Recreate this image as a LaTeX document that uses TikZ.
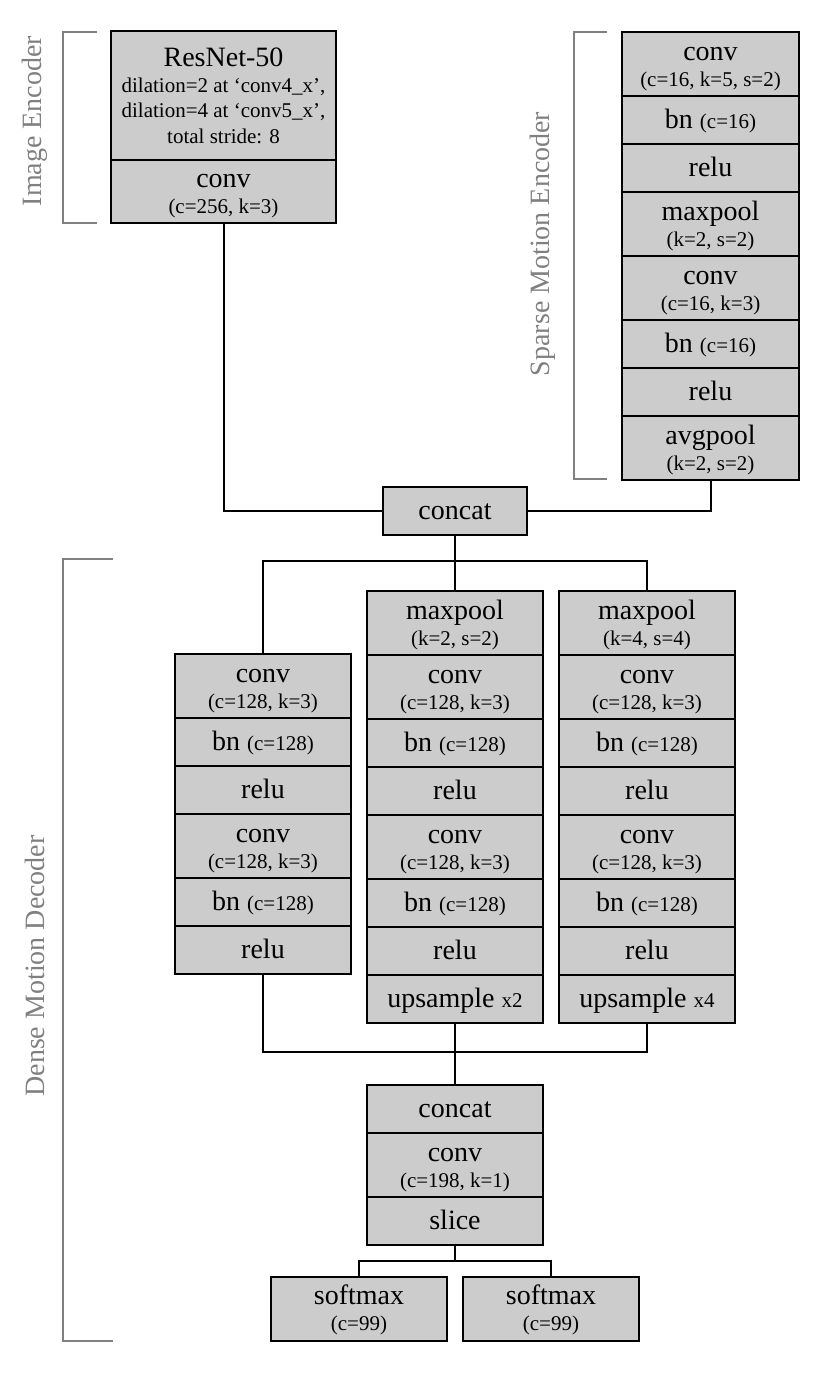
\documentclass[tikz,border=0pt]{standalone}
\usepackage{fontspec}
\setmainfont{Liberation Serif}
\definecolor{boxgray}{RGB}{204,204,204}
\definecolor{brgray}{RGB}{128,128,128}
\newcommand\mylarge{\fontsize{28}{25.5}\selectfont}
\newcommand\mysmall{\fontsize{21}{25.5}\selectfont}
\begin{document}
\begin{tikzpicture}[x=1pt,y=-1pt,
  cell/.style={draw=black, line width=2pt, fill=boxgray, outer sep=0pt, inner sep=0pt,
    minimum width=176pt, align=center, font=\mylarge, anchor=north},
  hA/.style={text height=32.5pt, text depth=15.5pt},
  hB/.style={text height=54pt, text depth=10pt},
  wire/.style={line width=2pt, draw=black},
  brk/.style={line width=2pt, draw=brgray},
  lbl/.style={font=\mylarge, text=brgray, rotate=90, inner sep=0pt}]
\useasboundingbox (0,0) rectangle (830,1373);

% Image encoder
\node[cell, minimum width=225pt, text height=112pt, text depth=17pt] (r1) at (223.5,31)
  {ResNet-50\\{\mysmall dilation=2 at ‘conv4\_x’,}\\{\mysmall dilation=4 at ‘conv5\_x’,}\\{\mysmall total stride: 8}};
\node[cell, minimum width=225pt, text height=53pt, text depth=10pt] (r2) at (r1.south) {conv\\{\mysmall (c=256, k=3)}};

% Sparse motion encoder
\node[cell, minimum width=177pt, hB] (s1) at (710.5,32) {conv\\{\mysmall (c=16, k=5, s=2)}};
\node[cell, minimum width=177pt, hA] (s2) at (s1.south) {bn {\mysmall (c=16)}};
\node[cell, minimum width=177pt, hA] (s3) at (s2.south) {relu};
\node[cell, minimum width=177pt, hB] (s4) at (s3.south) {maxpool\\{\mysmall (k=2, s=2)}};
\node[cell, minimum width=177pt, hB] (s5) at (s4.south) {conv\\{\mysmall (c=16, k=3)}};
\node[cell, minimum width=177pt, hA] (s6) at (s5.south) {bn {\mysmall (c=16)}};
\node[cell, minimum width=177pt, hA] (s7) at (s6.south) {relu};
\node[cell, minimum width=177pt, hB] (s8) at (s7.south) {avgpool\\{\mysmall (k=2, s=2)}};

% concat
\node[cell, minimum width=144pt, hA] (c0) at (455,487) {concat};

% left column
\node[cell, hB] (l1) at (263,654) {conv\\{\mysmall (c=128, k=3)}};
\node[cell, hA] (l2) at (l1.south) {bn {\mysmall (c=128)}};
\node[cell, hA] (l3) at (l2.south) {relu};
\node[cell, hB] (l4) at (l3.south) {conv\\{\mysmall (c=128, k=3)}};
\node[cell, hA] (l5) at (l4.south) {bn {\mysmall (c=128)}};
\node[cell, hA] (l6) at (l5.south) {relu};

% middle column
\node[cell, hB] (m1) at (455,591) {maxpool\\{\mysmall (k=2, s=2)}};
\node[cell, hB] (m2) at (m1.south) {conv\\{\mysmall (c=128, k=3)}};
\node[cell, hA] (m3) at (m2.south) {bn {\mysmall (c=128)}};
\node[cell, hA] (m4) at (m3.south) {relu};
\node[cell, hB] (m5) at (m4.south) {conv\\{\mysmall (c=128, k=3)}};
\node[cell, hA] (m6) at (m5.south) {bn {\mysmall (c=128)}};
\node[cell, hA] (m7) at (m6.south) {relu};
\node[cell, hA] (m8) at (m7.south) {upsample {\mysmall x2}};

% right column
\node[cell, hB] (q1) at (647,591) {maxpool\\{\mysmall (k=4, s=4)}};
\node[cell, hB] (q2) at (q1.south) {conv\\{\mysmall (c=128, k=3)}};
\node[cell, hA] (q3) at (q2.south) {bn {\mysmall (c=128)}};
\node[cell, hA] (q4) at (q3.south) {relu};
\node[cell, hB] (q5) at (q4.south) {conv\\{\mysmall (c=128, k=3)}};
\node[cell, hA] (q6) at (q5.south) {bn {\mysmall (c=128)}};
\node[cell, hA] (q7) at (q6.south) {relu};
\node[cell, hA] (q8) at (q7.south) {upsample {\mysmall x4}};

% bottom block
\node[cell, hA] (b1) at (455,1085) {concat};
\node[cell, hB] (b2) at (b1.south) {conv\\{\mysmall (c=198, k=1)}};
\node[cell, hA] (b3) at (b2.south) {slice};

\node[cell, text height=53pt, text depth=11pt] (o1) at (359,1277) {softmax\\{\mysmall (c=99)}};
\node[cell, text height=53pt, text depth=11pt] (o2) at (551,1277) {softmax\\{\mysmall (c=99)}};

% junction coordinates
\coordinate (sp1) at (455,561);
\coordinate (jn) at (455,1052);
\coordinate (sp2) at (455,1261);

% connectors
\draw[wire] (r2.south) |- (c0.west);
\draw[wire] (s8.south) |- (c0.east);
\draw[wire] (c0.south) -- (sp1);
\draw[wire] (l1.north) |- (sp1) -| (q1.north);
\draw[wire] (sp1) -- (m1.north);
\draw[wire] (l6.south) |- (jn) -| (q8.south);
\draw[wire] (m8.south) -- (b1.north);
\draw[wire] (b3.south) -- (sp2);
\draw[wire] (o1.north) |- (sp2) -| (o2.north);

% brackets
\draw[brk] (97,32) -- (63,32) -- (63,223) -- (97,223);
\draw[brk] (607,32) -- (574,32) -- (574,479) -- (607,479);
\draw[brk] (113,559) -- (63,559) -- (63,1341) -- (113,1341);

% labels
\node[lbl] (lie) at (34.5,121) {Image Encoder};
\node[lbl] (lsm) at (543,244) {Sparse Motion Encoder};
\node[lbl] (ldm) at (34.5,966) {Dense Motion Decoder};
\end{tikzpicture}
\end{document}
